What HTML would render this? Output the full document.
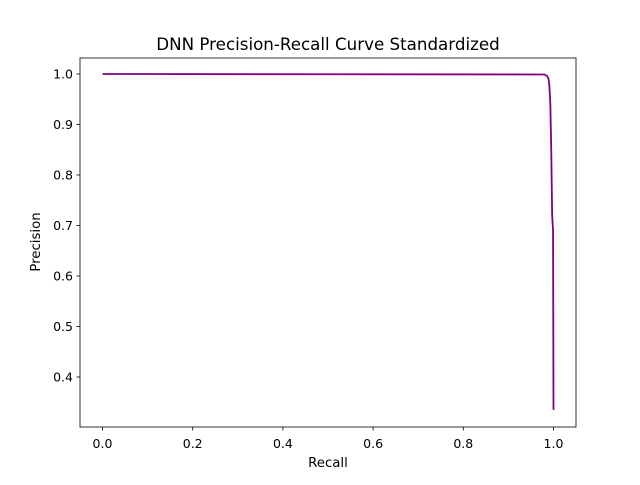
<!DOCTYPE html>
<html><head><meta charset="utf-8"><style>
body{margin:0;background:#fff}
svg text{font-family:"DejaVu Sans","Liberation Sans",sans-serif;fill:#000}
</style></head><body>
<svg width="640" height="480" viewBox="0 0 640 480" xmlns="http://www.w3.org/2000/svg">
<rect width="640" height="480" fill="#fff"/>
<text x="328" y="50" font-size="16.7" text-anchor="middle">DNN Precision-Recall Curve Standardized</text>
<g id="xt"></g>
<g id="yt"></g>
<path id="curve" fill="none" stroke="#800080" stroke-width="1.8"/>
<rect x="80" y="58" width="496" height="369" fill="none" stroke="#000" stroke-width="0.8"/>
<text x="328" y="467" font-size="13.3" text-anchor="middle">Recall</text>
<text transform="translate(40,242) rotate(-90)" font-size="13.3" text-anchor="middle">Precision</text>
</svg>
<script>
const recall=[0,0.5,0.98,0.986,0.989,0.991,0.993,0.995,0.997,0.998,0.999,1.0];
const precision=[1.0,0.9995,0.999,0.996,0.99,0.975,0.94,0.85,0.72,0.705,0.69,0.335];
const xTicks=[0,0.2,0.4,0.6,0.8,1.0];
const xTickLabels=["0.0","0.2","0.4","0.6","0.8","1.0"];
const yTicks=[0.4,0.5,0.6,0.7,0.8,0.9,1.0];
const yTickLabels=["0.4","0.5","0.6","0.7","0.8","0.9","1.0"];
const xs=v=>102.5+v*451;
const ys=v=>74+(1-v)*505;
const NS="http://www.w3.org/2000/svg";
const xg=document.getElementById('xt'),yg=document.getElementById('yt');
xTicks.forEach((t,i)=>{
 const l=document.createElementNS(NS,'line');
 
 
 l.setAttribute('x1',xs(t));l.setAttribute('x2',xs(t));l.setAttribute('y1',427);l.setAttribute('y2',430.5);l.setAttribute('stroke','#000');l.setAttribute('stroke-width','0.8');
 xg.appendChild(l);
 const tx=document.createElementNS(NS,'text');
 
 
 tx.setAttribute('x',xs(t));tx.setAttribute('y',448);tx.setAttribute('font-size','12.5');tx.setAttribute('text-anchor','middle');
 tx.textContent=xTickLabels[i];xg.appendChild(tx);
});
yTicks.forEach((t,i)=>{
 const l=document.createElementNS(NS,'line');
 
 
 l.setAttribute('x1',76.5);l.setAttribute('x2',80);l.setAttribute('y1',ys(t));l.setAttribute('y2',ys(t));l.setAttribute('stroke','#000');l.setAttribute('stroke-width','0.8');
 yg.appendChild(l);
 const tx=document.createElementNS(NS,'text');
 
 
 tx.setAttribute('x',73);tx.setAttribute('y',ys(t)+4.5);tx.setAttribute('font-size','12.5');tx.setAttribute('text-anchor','end');
 tx.textContent=yTickLabels[i];yg.appendChild(tx);
});
document.getElementById('curve').setAttribute('d',recall.map((r,i)=>(i?'L':'M')+xs(r).toFixed(2)+','+ys(precision[i]).toFixed(2)).join(' '));
</script>
</body></html>
